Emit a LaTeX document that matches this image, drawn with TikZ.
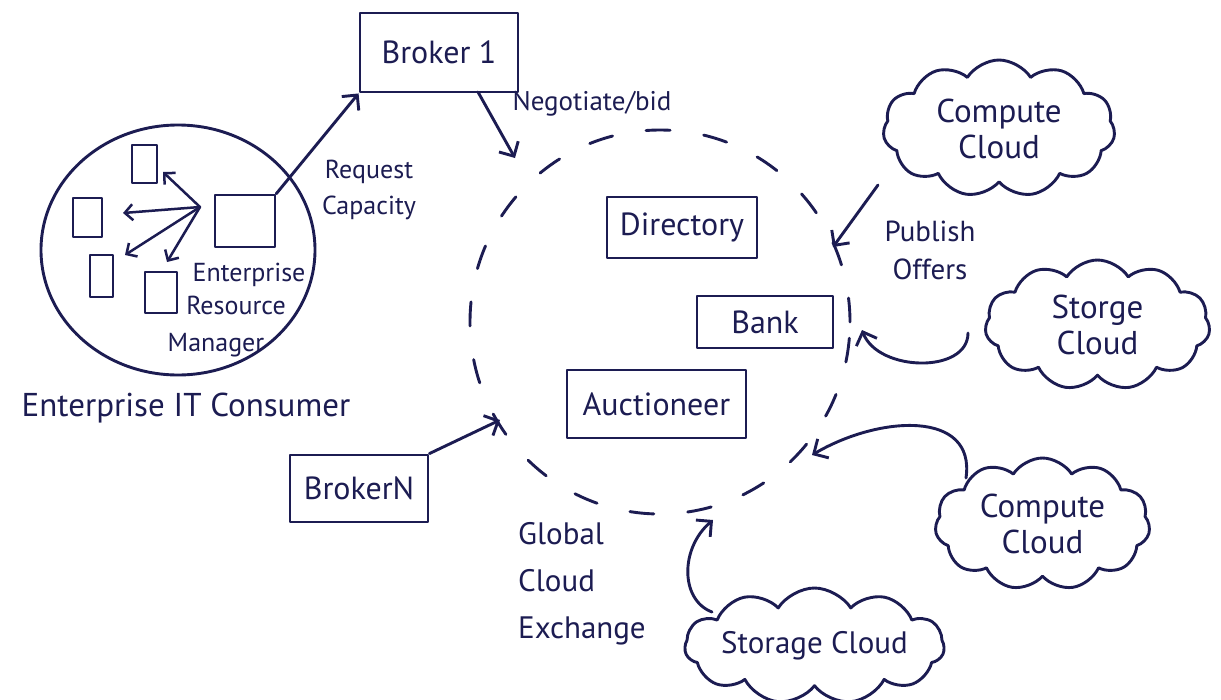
\documentclass[tikz,border=0pt]{standalone}
\usepackage{fontspec}
\setmainfont{PT Sans}
\usetikzlibrary{arrows.meta,shapes.symbols,shapes.geometric}
\definecolor{ink}{HTML}{1C1C52}
\tikzset{
  inkline/.style={draw=ink, line width=2.9pt, line cap=round, line join=round},
  box/.style={inkline, rectangle, inner sep=0pt, text=ink, font=\fontsize{32}{34}\selectfont},
  sbox/.style={inkline, rectangle, inner sep=0pt, line width=2.5pt},
  txt/.style={text=ink, inner sep=0pt, align=center},
  cloudy/.style={inkline, cloud, cloud puffs=11, cloud puff arc=115, cloud ignores aspect,
                 inner sep=0pt, text=ink, align=center, font=\fontsize{33}{36}\selectfont},
  arr/.style={inkline, -{Straight Barb[length=11pt,width=22pt,line width=2.9pt]}},
  sarr/.style={inkline, line width=2.5pt, -{Straight Barb[length=8pt,width=16pt,line width=2.5pt]}},
}
\begin{document}
\begin{tikzpicture}[x=1pt,y=-1pt]
\useasboundingbox (0,0) rectangle (1221,699);
\fill[white] (0,0) rectangle (1221,699);

% ---- Enterprise IT consumer ----
\node[inkline, ellipse, minimum width=274pt, minimum height=250pt] (ent) at (178,250) {};
\node[sbox, minimum width=25pt, minimum height=38pt] (vm1) at (144.5,164) {};
\node[sbox, minimum width=29pt, minimum height=39pt] (vm2) at (87.5,217.5) {};
\node[sbox, minimum width=23pt, minimum height=42pt] (vm3) at (101.5,276) {};
\node[sbox, minimum width=32pt, minimum height=41pt] (vm4) at (161,292.5) {};
\node[sbox, minimum width=60pt, minimum height=52pt] (erm) at (245,221) {};
\coordinate (hub) at (200,207);
\coordinate (h1) at (163,172);
\coordinate (h2) at (123,213);
\coordinate (h3) at (125,255);
\coordinate (h4) at (167,262);
\draw[sarr] (hub) -- (h1);
\draw[sarr] (hub) -- (h2);
\draw[sarr] (hub) -- (h3);
\draw[sarr] (hub) -- (h4);
\node[txt, font=\fontsize{26}{28}\selectfont] (ermA) at (249,275) {Enterprise};
\node[txt, font=\fontsize{26}{28}\selectfont] (ermB) at (236,305) {Resource};
\node[txt, font=\fontsize{26}{28}\selectfont] (ermC) at (216,345) {Manager};
\node[txt, font=\fontsize{33}{36}\selectfont] (entlbl) at (186,408) {Enterprise IT Consumer};

% ---- brokers ----
\node[box, minimum width=158pt, minimum height=79pt] (broker1) at (439,52.5) {Broker 1};
\node[box, minimum width=138pt, minimum height=67pt] (brokerN) at (359,488.5) {BrokerN};
\draw[arr] (erm.north east) -- (broker1.south west);
\node[txt, font=\fontsize{26}{36}\selectfont] (reqlbl) at (369,190) {Request\\Capacity};

% ---- global cloud exchange ----
\node[draw=ink, line width=2.9pt, line cap=round, dash pattern=on 24pt off 34pt,
      ellipse, minimum width=380pt, minimum height=384pt] (gce) at (660,322) {};
\node[box, minimum width=150pt, minimum height=61pt] (dir) at (682,227.5) {Directory};
\node[box, minimum width=136pt, minimum height=52pt] (bank) at (765,322) {Bank};
\node[box, minimum width=179pt, minimum height=68pt] (auct) at (656.5,404) {Auctioneer};
\node[txt, anchor=north west, align=left, font=\fontsize{31}{47}\selectfont] (gcelbl) at (518,522)
  {Global\\Cloud\\Exchange};

\coordinate (negA) at (478,92);
\coordinate (negB) at (515,158);
\draw[arr] (negA) -- (negB);
\node[txt, font=\fontsize{27}{29}\selectfont] (neglbl) at (592,104) {Negotiate/bid};

\coordinate (bnB) at (500,420);
\draw[arr] (brokerN.north east) -- (bnB);

% ---- cloud providers ----
\node[cloudy, minimum width=232pt, minimum height=137pt] (cc1) at (999,128.5) {Compute\\Cloud};
\node[cloudy, minimum width=225pt, minimum height=130pt] (sc1) at (1097.5,325) {Storge\\Cloud};
\node[cloudy, minimum width=215pt, minimum height=132pt] (cc2) at (1042.5,524) {Compute\\Cloud};
\node[cloudy, minimum width=235pt, minimum height=116pt, font=\fontsize{31}{34}\selectfont] (sc2) at (814.5,646) {Storage Cloud};

\coordinate (pA) at (878,185);
\coordinate (pB) at (833,247);
\draw[arr] (pA) -- (pB);
\node[txt, font=\fontsize{29}{38}\selectfont] (publbl) at (930,250) {Publish\\Offers};

\coordinate (s1A) at (968,333);
\coordinate (s1B) at (862,330);
\draw[arr] (s1A) .. controls (968,374) and (878,372) .. (s1B);

\coordinate (c2A) at (966,478);
\coordinate (c2B) at (812,455);
\draw[arr] (c2A) .. controls (976,410) and (880,415) .. (c2B);

\coordinate (s2A) at (712,612);
\coordinate (s2B) at (713,520);
\draw[arr] (s2A) .. controls (680,600) and (680,548) .. (s2B);
\end{tikzpicture}
\end{document}
